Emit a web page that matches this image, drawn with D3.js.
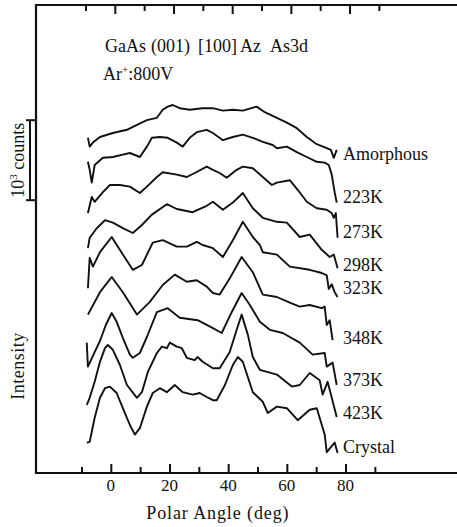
<!DOCTYPE html>
<html>
<head>
<meta charset="utf-8">
<script src="https://cdn.jsdelivr.net/npm/d3@7"></script>
<style>
  html, body { margin: 0; padding: 0; background: #fff; }
</style>
</head>
<body>
<div id="chart"></div>
<script>
// polar angle (deg) vs intensity (10^3 counts, curves stacked as in the figure)
const amorphous = [[-7.8,4.19],[-7.2,4.08],[-6.1,4.13],[-3.7,4.20],[0.7,4.25],[5.5,4.29],[8.2,4.34],[12.3,4.41],[15.7,4.44],[17.7,4.54],[19.4,4.58],[21.1,4.60],[23.5,4.56],[26.9,4.54],[31.3,4.56],[34.8,4.56],[38.2,4.53],[41.6,4.54],[45.0,4.53],[49.7,4.58],[52.5,4.51],[56.6,4.44],[60.0,4.38],[63.4,4.31],[66.8,4.20],[70.2,4.11],[73.6,4.06],[75.0,4.04],[76.0,3.94],[77.0,4.04]];
const k223 = [[-7.8,3.89],[-7.2,3.79],[-6.5,3.63],[-5.5,3.85],[-2.7,3.94],[0.7,3.95],[4.1,3.98],[6.5,4.00],[9.9,3.95],[12.3,4.08],[14.0,4.19],[16.7,4.20],[19.4,4.19],[22.5,4.13],[24.5,4.08],[26.9,4.19],[29.3,4.26],[32.7,4.29],[34.8,4.25],[38.2,4.16],[41.6,4.20],[45.0,4.23],[48.4,4.19],[51.8,4.14],[55.2,4.10],[56.6,4.06],[60.0,4.08],[63.4,4.01],[66.8,3.95],[70.2,3.89],[72.9,3.88],[74.3,3.85],[75.3,3.73],[76.3,3.51],[77.0,3.38]];
const k273 = [[-7.8,3.25],[-6.5,3.45],[-5.5,3.39],[-2.7,3.51],[-0.3,3.60],[3.1,3.60],[6.5,3.58],[9.9,3.50],[12.3,3.58],[15.7,3.70],[17.7,3.76],[22.5,3.73],[25.9,3.70],[28.6,3.75],[32.7,3.83],[34.8,3.79],[37.1,3.75],[39.5,3.69],[42.9,3.79],[45.0,3.83],[48.4,3.81],[51.8,3.70],[54.9,3.60],[56.6,3.63],[61.0,3.66],[63.7,3.54],[66.8,3.39],[70.2,3.31],[73.6,3.29],[75.3,3.25],[76.0,3.19],[76.7,3.25],[77.3,2.94]];
const k298 = [[-7.8,2.81],[-7.2,2.94],[-4.8,3.06],[-2.0,3.16],[0.7,3.13],[4.1,3.06],[7.5,3.00],[10.6,3.10],[14.0,3.23],[19.1,3.36],[22.5,3.30],[27.9,3.26],[32.7,3.34],[34.8,3.39],[38.2,3.29],[41.6,3.38],[45.0,3.50],[48.4,3.31],[51.8,3.19],[56.6,3.14],[60.0,3.13],[64.4,2.95],[67.8,2.98],[71.9,2.79],[74.6,2.70],[76.0,2.73],[77.3,2.56]];
const k323 = [[-7.8,2.31],[-7.2,2.69],[-6.1,2.58],[-3.7,2.76],[0.3,2.95],[4.1,2.73],[7.5,2.54],[10.6,2.60],[14.3,2.88],[17.7,2.91],[22.5,2.83],[25.9,2.83],[29.3,2.89],[31.3,2.85],[34.8,2.81],[38.2,2.70],[41.6,2.91],[45.0,3.14],[48.4,2.95],[50.8,2.85],[51.8,2.76],[56.6,2.73],[61.0,2.58],[67.8,2.54],[71.9,2.50],[73.6,2.47],[74.3,2.30],[75.3,2.36],[76.3,2.26],[77.3,2.20]];
const k348 = [[-7.8,1.98],[-3.7,2.26],[0.3,2.45],[4.1,2.26],[8.9,1.98],[13.3,2.14],[17.7,2.35],[21.8,2.48],[25.9,2.39],[29.3,2.41],[32.7,2.33],[34.8,2.25],[37.1,2.23],[40.5,2.43],[44.6,2.70],[48.4,2.51],[51.8,2.23],[56.6,2.20],[61.0,2.13],[64.4,2.08],[67.8,2.10],[71.9,2.06],[72.9,2.08],[73.6,1.85],[74.6,1.91],[75.6,1.66]];
const k373 = [[-8.2,1.63],[-7.8,1.33],[-5.5,1.51],[-3.7,1.65],[-1.7,1.85],[0.3,2.00],[2.0,1.89],[4.1,1.69],[6.5,1.48],[7.5,1.44],[9.9,1.50],[12.3,1.70],[15.7,2.01],[19.4,2.06],[23.5,1.94],[29.6,1.91],[34.8,1.81],[37.8,1.75],[41.2,2.01],[44.6,2.25],[47.4,2.10],[50.8,1.89],[54.2,1.79],[58.6,1.75],[64.4,1.63],[68.8,1.48],[72.9,1.50],[73.6,1.33],[75.6,1.38],[77.0,1.10]];
const k423 = [[-8.2,0.85],[-7.2,0.94],[-5.5,1.14],[-3.7,1.39],[-2.0,1.56],[-1.0,1.60],[0.7,1.54],[3.1,1.35],[5.5,1.10],[8.9,0.94],[10.6,1.01],[12.6,1.26],[15.7,1.50],[17.4,1.58],[19.1,1.56],[20.1,1.63],[22.5,1.58],[24.2,1.56],[25.9,1.44],[28.6,1.41],[29.6,1.45],[31.3,1.39],[34.8,1.31],[37.1,1.31],[40.5,1.51],[42.9,1.79],[44.6,1.98],[46.7,1.73],[48.4,1.45],[50.8,1.29],[56.6,1.23],[61.7,1.08],[64.4,1.10],[67.8,1.25],[71.2,1.16],[72.2,0.98],[73.9,1.14],[77.0,0.70]];
const crystal = [[-8.2,0.38],[-7.2,0.39],[-5.5,0.69],[-3.7,0.94],[-2.0,1.06],[-0.3,1.08],[2.0,1.00],[4.1,0.81],[6.5,0.60],[8.2,0.48],[9.9,0.56],[12.3,0.83],[14.3,1.00],[16.7,1.06],[19.1,1.01],[21.8,1.10],[24.5,1.01],[27.9,0.98],[30.3,1.00],[32.7,0.95],[34.8,0.91],[36.1,0.91],[38.9,1.10],[41.6,1.35],[43.3,1.45],[45.0,1.39],[48.4,1.01],[51.8,0.89],[53.5,0.75],[56.6,0.83],[60.0,0.81],[63.7,0.66],[67.8,0.79],[70.2,0.81],[72.9,0.48],[73.6,0.26],[76.3,0.38],[77.3,0.25]];

const seriesData = [amorphous, k223, k273, k298, k323, k348, k373, k423, crystal];
const seriesLabels = ["Amorphous", "223K", "273K", "298K", "323K", "348K", "373K", "423K", "Crystal"];
const labelLevels = [3.99, 3.45, 3.01, 2.60, 2.31, 1.69, 1.16, 0.75, 0.33];

const xTickLabels = [0, 20, 40, 60, 80];
const xMinorTicks = [-10, 10, 30, 50, 70, 90];
const scaleBar = [4.41, 3.41]; // 10^3 counts

const W = 457, H = 527;
const svg = d3.select("#chart").append("svg")
  .attr("width", W)
  .attr("height", H)
  .attr("font-family", "'Liberation Serif', 'DejaVu Serif', serif")
  .attr("fill", "#111");

const x = d3.scaleLinear().domain([-25.5, 118]).range([36, 457]);
const y = d3.scaleLinear().domain([0, 5.85]).range([473, 5]);

// frame: left, top and bottom only
const [x0, x1] = x.range();
const [yb, yt] = y.range();
svg.append("path")
  .attr("d", `M${x1},${yt}H${x0}V${yb}H${x1}`)
  .attr("fill", "none")
  .attr("stroke", "#111")
  .attr("stroke-width", 2.2);

// bottom ticks point up, top ticks point down
const bottomMajor = d3.axisBottom(x).tickValues(xTickLabels).tickSize(-9).tickFormat("");
const bottomMinor = d3.axisBottom(x).tickValues(xMinorTicks).tickSize(-6).tickFormat("");
const topMajor = d3.axisTop(x).tickValues(xTickLabels).tickSize(-9).tickFormat("");
const topMinor = d3.axisTop(x).tickValues(xMinorTicks).tickSize(-6).tickFormat("");

[[bottomMajor, yb, 0], [bottomMinor, yb, 0], [topMajor, yt, 4], [topMinor, yt, 4]].forEach(([ax, yy, dx]) => {
  svg.append("g")
    .attr("transform", `translate(${dx},${yy})`)
    .call(ax)
    .call(g => g.select(".domain").remove())
    .call(g => g.selectAll("line").attr("stroke", "#111").attr("stroke-width", 2));
});

svg.append("g")
  .selectAll("text")
  .data(xTickLabels)
  .join("text")
  .attr("x", d => x(d))
  .attr("y", 491)
  .attr("text-anchor", "middle")
  .attr("font-size", 17)
  .text(d => d);

svg.append("text")
  .attr("x", x(36.5))
  .attr("y", 519)
  .attr("text-anchor", "middle")
  .attr("font-size", 18)
  .attr("letter-spacing", 0.9)
  .text("Polar Angle (deg)");

svg.append("text")
  .attr("transform", "translate(24,366) rotate(-90)")
  .attr("text-anchor", "middle")
  .attr("font-size", 18)
  .attr("letter-spacing", 0.5)
  .text("Intensity");

// 10^3 counts scale bar
const sb = svg.append("g").attr("stroke", "#111").attr("stroke-width", 2);
sb.append("line").attr("x1", 30).attr("x2", 30).attr("y1", y(scaleBar[0])).attr("y2", y(scaleBar[1]));
sb.append("line").attr("x1", 26).attr("x2", 35).attr("y1", y(scaleBar[0])).attr("y2", y(scaleBar[0]));
sb.append("line").attr("x1", 26).attr("x2", 35).attr("y1", y(scaleBar[1])).attr("y2", y(scaleBar[1]));

const sbText = svg.append("text")
  .attr("transform", `translate(24,${(y(scaleBar[0]) + y(scaleBar[1])) / 2}) rotate(-90)`)
  .attr("text-anchor", "middle")
  .attr("font-size", 18);
sbText.append("tspan").text("10");
sbText.append("tspan").attr("font-size", 11).attr("dy", -7).text("3");
sbText.append("tspan").attr("dy", 7).text(" counts");

// title block
const title = [["GaAs", 105], ["(001)", 151], ["[100]", 198], ["Az", 240], ["As3d", 270]];
svg.append("g")
  .selectAll("text")
  .data(title)
  .join("text")
  .attr("x", d => d[1])
  .attr("y", 52)
  .attr("font-size", 18)
  .text(d => d[0]);

const ar = svg.append("text").attr("x", 103).attr("y", 80).attr("font-size", 18);
ar.append("tspan").text("Ar");
ar.append("tspan").attr("font-size", 11).attr("dy", -7).text("+");
ar.append("tspan").attr("dy", 7).text(":800V");

// curves
const line = d3.line()
  .x(d => x(d[0]))
  .y(d => y(d[1]));

svg.append("g")
  .selectAll("path")
  .data(seriesData)
  .join("path")
  .attr("d", line)
  .attr("fill", "none")
  .attr("stroke", "#111")
  .attr("stroke-width", 1.9)
  .attr("stroke-linejoin", "round");

svg.append("g")
  .selectAll("text")
  .data(seriesLabels)
  .join("text")
  .attr("x", 343)
  .attr("y", (d, i) => y(labelLevels[i]) + 6)
  .attr("font-size", 18)
  .text(d => d);
</script>
</body>
</html>
